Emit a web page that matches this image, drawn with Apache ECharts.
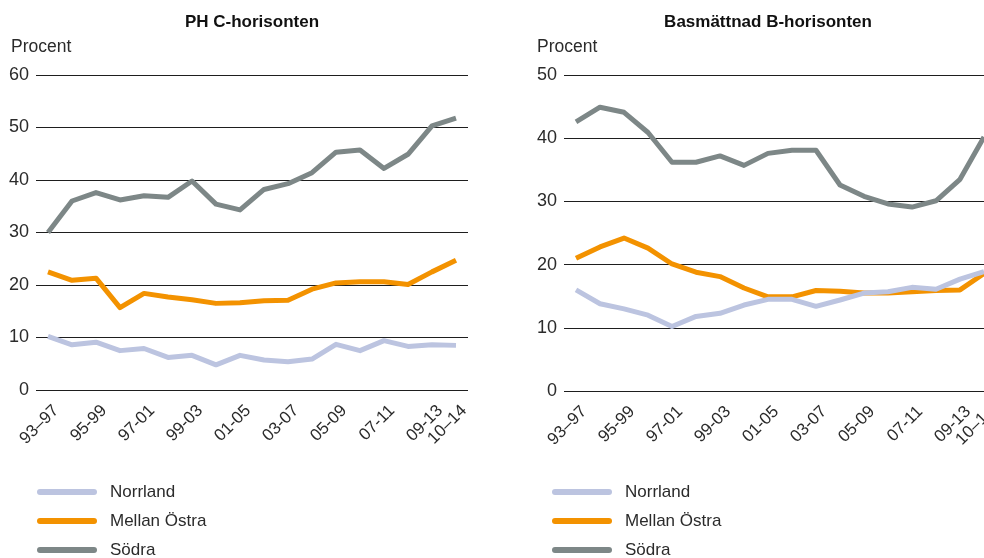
<!DOCTYPE html>
<html>
<head>
<meta charset="utf-8">
<script src="https://cdn.jsdelivr.net/npm/echarts@6/dist/echarts.min.js"></script>
<style>
  html, body { margin: 0; padding: 0; background: #fff; }
  #chart { width: 984px; height: 558px; }
</style>
</head>
<body>
<div id="chart"></div>
<script>
// Five-year periods on the x axis
var periods = ['93–97', '94-98', '95-99', '96-00', '97-01', '98-02', '99-03', '00-04', '01-05',
               '02-06', '03-07', '04-08', '05-09', '06-10', '07-11', '08-12', '09-13', '10–14'];

// pH in the C horizon, percent per region
var phNorrland = [10.2, 8.6, 9.1, 7.5, 7.9, 6.2, 6.6, 4.8, 6.6, 5.7, 5.4, 5.9, 8.7, 7.5, 9.4, 8.3, 8.6, 8.5];
var phMellan   = [22.5, 20.9, 21.3, 15.7, 18.4, 17.7, 17.2, 16.5, 16.6, 17.0, 17.1, 19.2, 20.4, 20.6, 20.6, 20.1, 22.5, 24.7];
var phSodra    = [30.0, 36.0, 37.6, 36.2, 37.0, 36.7, 39.8, 35.4, 34.3, 38.2, 39.3, 41.4, 45.3, 45.7, 42.2, 44.9, 50.3, 51.8];

// Base saturation in the B horizon, percent per region
var bsNorrland = [16.0, 13.8, 13.0, 12.0, 10.2, 11.8, 12.3, 13.6, 14.5, 14.5, 13.4, 14.4, 15.5, 15.7, 16.4, 16.1, 17.7, 18.9];
var bsMellan   = [21.0, 22.8, 24.2, 22.6, 20.1, 18.8, 18.1, 16.3, 14.9, 14.9, 15.9, 15.8, 15.5, 15.5, 15.7, 15.9, 16.0, 18.6];
var bsSodra    = [42.6, 44.9, 44.1, 40.9, 36.2, 36.2, 37.2, 35.7, 37.6, 38.1, 38.1, 32.6, 30.8, 29.6, 29.1, 30.1, 33.5, 40.2];

var seriesNames = ['Norrland', 'Mellan Östra', 'Södra'];
var colors = { 'Norrland': '#BCC4E0', 'Mellan Östra': '#F39200', 'Södra': '#7D8787' };

var FONT = '"Liberation Sans", Arial, sans-serif';
var TEXT = '#2b2b2b';

function xAxis(gridIndex) {
  return {
    type: 'category',
    gridIndex: gridIndex,
    data: periods,
    boundaryGap: true,
    axisLine: { show: false },
    axisTick: { show: false },
    axisLabel: {
      interval: function (i) { return i % 2 === 0 || i === periods.length - 1; },
      rotate: 45,
      margin: 0,
      align: 'right',
      verticalAlign: 'top',
      padding: [10, 7, 0, 0],
      hideOverlap: false,
      fontFamily: FONT,
      fontSize: 17,
      color: TEXT
    }
  };
}

function yAxis(gridIndex, max) {
  return {
    type: 'value',
    gridIndex: gridIndex,
    min: 0,
    max: max,
    interval: 10,
    axisLine: { show: false },
    axisTick: { show: false },
    splitLine: { lineStyle: { color: '#1e1e1e', width: 1 } },
    axisLabel: { margin: 7, fontFamily: FONT, fontSize: 18, color: TEXT }
  };
}

function line(name, data, idx) {
  return {
    name: name,
    type: 'line',
    xAxisIndex: idx,
    yAxisIndex: idx,
    data: data,
    symbol: 'none',
    silent: true,
    lineStyle: { color: colors[name], width: 5, join: 'round', cap: 'butt' },
    itemStyle: { color: colors[name] }
  };
}

// One legend entry per row, stacked under each panel
function legendRow(left, top, name) {
  return {
    orient: 'vertical',
    left: left,
    top: top,
    padding: 0,
    itemWidth: 60,
    itemHeight: 6,
    icon: 'path://M3,0H57A3,3,0,0,1,57,6H3A3,3,0,0,1,3,0Z',
    data: [name],
    selectedMode: false,
    textStyle: { fontFamily: FONT, fontSize: 17, color: TEXT, lineHeight: 20, padding: [0, 0, 0, 8] }
  };
}

var legends = [];
[37, 552].forEach(function (left) {
  seriesNames.forEach(function (name, i) {
    legends.push(legendRow(left, 482 + i * 29, name));
  });
});

var chart = echarts.init(document.getElementById('chart'), null, { renderer: 'canvas' });

chart.setOption({
  animation: false,
  backgroundColor: '#ffffff',
  title: [
    { text: 'PH C-horisonten', left: 247, top: 9, textAlign: 'center',
      textStyle: { fontFamily: FONT, fontSize: 17, fontWeight: 'bold', color: '#111' } },
    { text: 'Basmättnad B-horisonten', left: 763, top: 9, textAlign: 'center',
      textStyle: { fontFamily: FONT, fontSize: 17, fontWeight: 'bold', color: '#111' } }
  ],
  graphic: [
    { type: 'text', left: 11, top: 38, style: { text: 'Procent', font: '17.5px ' + FONT, fill: TEXT } },
    { type: 'text', left: 537, top: 38, style: { text: 'Procent', font: '17.5px ' + FONT, fill: TEXT } }
  ],
  legend: legends,
  grid: [
    { left: 36, right: 516, top: 75, bottom: 168, outerBoundsMode: 'none' },
    { left: 564, right: -12, top: 75, bottom: 167, outerBoundsMode: 'none' }
  ],
  xAxis: [xAxis(0), xAxis(1)],
  yAxis: [yAxis(0, 60), yAxis(1, 50)],
  series: [
    line('Mellan Östra', phMellan, 0),
    line('Norrland', phNorrland, 0),
    line('Södra', phSodra, 0),
    line('Mellan Östra', bsMellan, 1),
    line('Norrland', bsNorrland, 1),
    line('Södra', bsSodra, 1)
  ]
});
</script>
</body>
</html>
